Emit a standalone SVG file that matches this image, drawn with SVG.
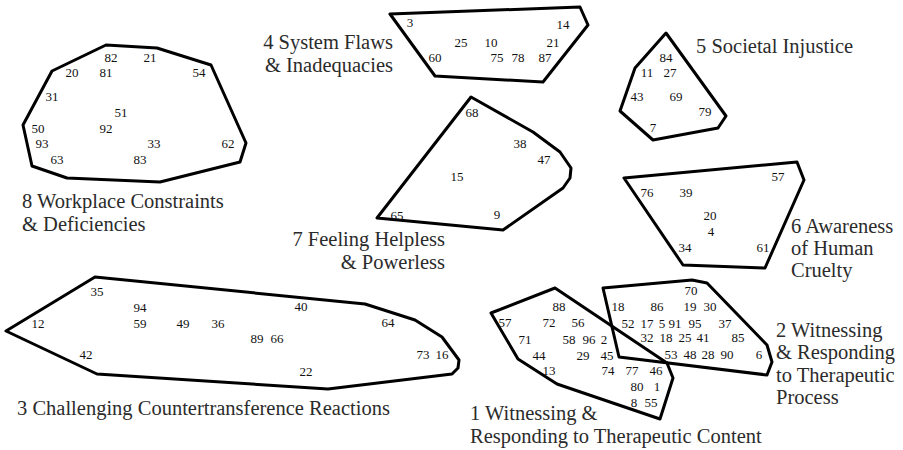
<svg xmlns="http://www.w3.org/2000/svg" width="903" height="450" viewBox="0 0 903 450">
  <style>
    .hull { fill: none; stroke: #000; stroke-width: 3; stroke-linejoin: round; }
    .num { font-family: "Liberation Serif", "Times New Roman", serif; font-size: 13px; fill: #111; text-anchor: middle; }
    .lbl { font-family: "Liberation Serif", "Times New Roman", serif; font-size: 20.5px; fill: #2b2b2b; }
    .end { text-anchor: end; }
  </style>
  <rect width="903" height="450" fill="#fff"/>

  <!-- Cluster 8 -->
  <g id="cluster8">
    <polygon class="hull" points="106,45 157,48 211,65 246,143 240,162 160,182 67,178 32,166 23,125 52,71"/>
    <text class="num" x="111" y="62">82</text>
    <text class="num" x="150" y="62">21</text>
    <text class="num" x="72" y="77">20</text>
    <text class="num" x="106" y="77">81</text>
    <text class="num" x="199" y="77">54</text>
    <text class="num" x="52" y="101">31</text>
    <text class="num" x="121" y="117">51</text>
    <text class="num" x="38" y="133">50</text>
    <text class="num" x="106" y="133">92</text>
    <text class="num" x="42" y="148">93</text>
    <text class="num" x="154" y="148">33</text>
    <text class="num" x="228" y="148">62</text>
    <text class="num" x="57" y="164">63</text>
    <text class="num" x="140" y="164">83</text>
    <text class="lbl" x="22" y="208">8 Workplace Constraints</text>
    <text class="lbl" x="22" y="231">&amp; Deficiencies</text>
  </g>

  <!-- Cluster 4 -->
  <g id="cluster4">
    <polygon class="hull" points="390,14 580,7 588,25 543,82 435,76"/>
    <text class="num" x="410" y="27">3</text>
    <text class="num" x="563" y="29">14</text>
    <text class="num" x="461" y="47">25</text>
    <text class="num" x="491" y="47">10</text>
    <text class="num" x="553" y="47">21</text>
    <text class="num" x="435" y="62">60</text>
    <text class="num" x="497" y="62">75</text>
    <text class="num" x="518" y="62">78</text>
    <text class="num" x="545" y="62">87</text>
    <text class="lbl end" x="393" y="49">4 System Flaws</text>
    <text class="lbl end" x="393" y="72">&amp; Inadequacies</text>
  </g>

  <!-- Cluster 5 -->
  <g id="cluster5">
    <polygon class="hull" points="666,33 726,116 718,128 653,140 620,111 635,68"/>
    <text class="num" x="666" y="62">84</text>
    <text class="num" x="647" y="77">11</text>
    <text class="num" x="670" y="77">27</text>
    <text class="num" x="637" y="101">43</text>
    <text class="num" x="676" y="101">69</text>
    <text class="num" x="705" y="116">79</text>
    <text class="num" x="653" y="132">7</text>
    <text class="lbl" x="696" y="53">5 Societal Injustice</text>
  </g>

  <!-- Cluster 7 -->
  <g id="cluster7">
    <polygon class="hull" points="471,97 533,132 560,152 571,168 570,178 563,188 503,230 377,218"/>
    <text class="num" x="472" y="117">68</text>
    <text class="num" x="520" y="148">38</text>
    <text class="num" x="544" y="164">47</text>
    <text class="num" x="457" y="181">15</text>
    <text class="num" x="397" y="220">65</text>
    <text class="num" x="497" y="219">9</text>
    <text class="lbl end" x="445" y="246">7 Feeling Helpless</text>
    <text class="lbl end" x="445" y="269">&amp; Powerless</text>
  </g>

  <!-- Cluster 6 -->
  <g id="cluster6">
    <polygon class="hull" points="624,178 797,162 804,180 765,268 683,265"/>
    <text class="num" x="647" y="197">76</text>
    <text class="num" x="686" y="197">39</text>
    <text class="num" x="778" y="181">57</text>
    <text class="num" x="710" y="220">20</text>
    <text class="num" x="711" y="236">4</text>
    <text class="num" x="685" y="252">34</text>
    <text class="num" x="763" y="252">61</text>
    <text class="lbl" x="791" y="233">6 Awareness</text>
    <text class="lbl" x="791" y="255">of Human</text>
    <text class="lbl" x="791" y="277">Cruelty</text>
  </g>

  <!-- Cluster 3 -->
  <g id="cluster3">
    <polygon class="hull" points="6,331 95,277 365,304 415,320 442,337 459,360 458,368 452,374 328,389 97,374"/>
    <text class="num" x="97" y="296">35</text>
    <text class="num" x="140" y="312">94</text>
    <text class="num" x="38" y="328">12</text>
    <text class="num" x="140" y="328">59</text>
    <text class="num" x="183" y="328">49</text>
    <text class="num" x="218" y="328">36</text>
    <text class="num" x="86" y="359">42</text>
    <text class="num" x="301" y="311">40</text>
    <text class="num" x="388" y="327">64</text>
    <text class="num" x="257" y="343">89</text>
    <text class="num" x="277" y="343">66</text>
    <text class="num" x="423" y="359">73</text>
    <text class="num" x="442" y="359">16</text>
    <text class="num" x="306" y="376">22</text>
    <text class="lbl" x="17" y="415">3 Challenging Countertransference Reactions</text>
  </g>

  <!-- Cluster 1 -->
  <g id="cluster1">
    <polygon class="hull" points="491,313 555,288 667,363 673,378 660,419 557,384 518,359"/>
    <text class="num" x="559" y="311">88</text>
    <text class="num" x="505" y="327">57</text>
    <text class="num" x="549" y="327">72</text>
    <text class="num" x="578" y="327">56</text>
    <text class="num" x="525" y="344">71</text>
    <text class="num" x="569" y="344">58</text>
    <text class="num" x="589" y="344">96</text>
    <text class="num" x="604" y="344">2</text>
    <text class="num" x="539" y="360">44</text>
    <text class="num" x="583" y="360">29</text>
    <text class="num" x="607" y="360">45</text>
    <text class="num" x="549" y="375">13</text>
    <text class="num" x="608" y="375">74</text>
    <text class="num" x="632" y="375">77</text>
    <text class="num" x="656" y="375">46</text>
    <text class="num" x="637" y="391">80</text>
    <text class="num" x="657" y="391">1</text>
    <text class="num" x="634" y="407">8</text>
    <text class="num" x="651" y="407">55</text>
    <text class="lbl" x="470" y="420">1 Witnessing &amp;</text>
    <text class="lbl" x="470" y="443">Responding to Therapeutic Content</text>
  </g>

  <!-- Cluster 2 -->
  <g id="cluster2">
    <polygon class="hull" points="603,288 692,280 707,283 767,345 772,362 767,375 619,357"/>
    <text class="num" x="691" y="295">70</text>
    <text class="num" x="618" y="311">18</text>
    <text class="num" x="657" y="311">86</text>
    <text class="num" x="690" y="311">19</text>
    <text class="num" x="710" y="311">30</text>
    <text class="num" x="628" y="328">52</text>
    <text class="num" x="647" y="328">17</text>
    <text class="num" x="662" y="328">5</text>
    <text class="num" x="675" y="328">91</text>
    <text class="num" x="695" y="328">95</text>
    <text class="num" x="725" y="328">37</text>
    <text class="num" x="647" y="342">32</text>
    <text class="num" x="666" y="342">18</text>
    <text class="num" x="685" y="342">25</text>
    <text class="num" x="703" y="342">41</text>
    <text class="num" x="738" y="342">85</text>
    <text class="num" x="671" y="359">53</text>
    <text class="num" x="690" y="359">48</text>
    <text class="num" x="708" y="359">28</text>
    <text class="num" x="727" y="359">90</text>
    <text class="num" x="759" y="359">6</text>
    <text class="lbl" x="776" y="337">2 Witnessing</text>
    <text class="lbl" x="776" y="359">&amp; Responding</text>
    <text class="lbl" x="776" y="382">to Therapeutic</text>
    <text class="lbl" x="776" y="404">Process</text>
  </g>
</svg>
